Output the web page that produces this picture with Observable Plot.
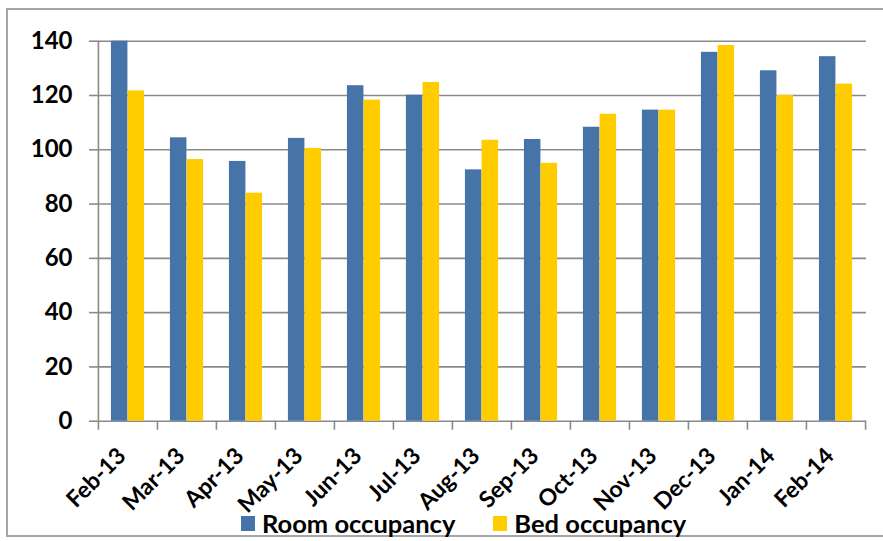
<!DOCTYPE html>
<html>
<head>
<meta charset="utf-8">
<script src="https://cdn.jsdelivr.net/npm/d3@7"></script>
<script src="https://cdn.jsdelivr.net/npm/@observablehq/plot@0.6"></script>
<style>
  html, body { margin: 0; padding: 0; background: #fff; overflow: hidden; }
  #wrap { position: relative; width: 883px; height: 541px; }
  #border { position: absolute; left: 6px; top: 8px; width: 890px; height: 529px; border: 2px solid #a6a6a6; box-sizing: border-box; }
  #chart { position: absolute; left: 0; top: 0; }
  #legend { position: absolute; left: 241px; top: 508px; display: flex; align-items: center; font-family: Lato, "Open Sans", sans-serif; font-weight: 700; font-size: 25.5px; color: #000; }
  .item { display: flex; align-items: center; }
  .sw { width: 14px; height: 15px; margin-right: 7px; }
</style>
</head>
<body>
<div id="wrap">
  <div id="border"></div>
  <div id="chart"></div>
  <div id="legend"></div>
</div>
<script>
const months = ["Feb-13","Mar-13","Apr-13","May-13","Jun-13","Jul-13","Aug-13","Sep-13","Oct-13","Nov-13","Dec-13","Jan-14","Feb-14"];
const roomOccupancy = [140.0, 104.4, 95.7, 104.2, 123.6, 120.1, 92.6, 103.8, 108.3, 114.6, 135.9, 129.1, 134.3];
const bedOccupancy  = [121.7, 96.4, 84.0, 100.5, 118.3, 124.8, 103.5, 95.0, 113.1, 114.6, 138.4, 120.0, 124.2];
const seriesNames = ["Room occupancy", "Bed occupancy"];
const seriesColors = ["#4673A8", "#FFCC00"];
const yTicks = [0, 20, 40, 60, 80, 100, 120, 140];

const room = months.map((m, i) => ({month: m, value: roomOccupancy[i]}));
const bed = months.map((m, i) => ({month: m, value: bedOccupancy[i]}));

const W = 883, H = 505;
const mL = 97, mR = 17, mT = 40.7, mB = H - 420.7;
const step = (W - mL - mR) / months.length;
const barW = step * 0.2815;
const outer = (step - 2 * barW) / 2;
const font = "Lato, 'Open Sans', sans-serif";

const chart = Plot.plot({
  width: W,
  height: H,
  marginLeft: mL,
  marginRight: mR,
  marginTop: mT,
  marginBottom: mB,
  style: {fontFamily: font, fontWeight: 700, fontSize: "23px", color: "#000", background: "transparent", overflow: "visible"},
  x: {type: "band", domain: months, padding: 0, axis: null, label: null},
  y: {domain: [0, 140], axis: null, label: null},
  marks: [
    Plot.gridY(yTicks, {stroke: "#8a8a8a", strokeOpacity: 1, strokeWidth: 1.6}),
    Plot.axisY(yTicks, {tickSize: 8, tickPadding: 17, stroke: "#8a8a8a", strokeWidth: 1.6, fontSize: 24, fontWeight: 700, fill: "#000", label: null, tickFormat: d => String(d)}),
    Plot.barY(room, {x: "month", y: "value", fill: seriesColors[0], insetLeft: outer, insetRight: step - outer - barW}),
    Plot.barY(bed, {x: "month", y: "value", fill: seriesColors[1], insetLeft: outer + barW, insetRight: outer}),
    Plot.ruleX(months, {x: d => d, dx: -step / 2, y1: 0, y2: 140, stroke: "#8a8a8a", strokeWidth: 1.6, filter: (d, i) => i === 0}),
    Plot.ruleX(months, {x: d => d, dx: -step / 2, y1: 0, y2: 0, insetBottom: -9, stroke: "#8a8a8a", strokeWidth: 1.6}),
    Plot.ruleX(months.slice(-1), {x: d => d, dx: step / 2, y1: 0, y2: 0, insetBottom: -9, stroke: "#8a8a8a", strokeWidth: 1.6}),
    Plot.axisX({tickSize: 0, tickRotate: -45, tickPadding: 26, dx: -6, dy: 5, fontSize: 23, fontWeight: 700, fill: "#000", label: null})
  ]
});
document.getElementById("chart").appendChild(chart);

const legend = document.getElementById("legend");
seriesNames.forEach((name, i) => {
  const item = document.createElement("div");
  item.className = "item";
  if (i > 0) item.style.marginLeft = "38px";
  const sw = document.createElement("div");
  sw.className = "sw";
  sw.style.background = seriesColors[i];
  const t = document.createElement("span");
  t.textContent = name;
  item.appendChild(sw);
  item.appendChild(t);
  legend.appendChild(item);
});
</script>
</body>
</html>
